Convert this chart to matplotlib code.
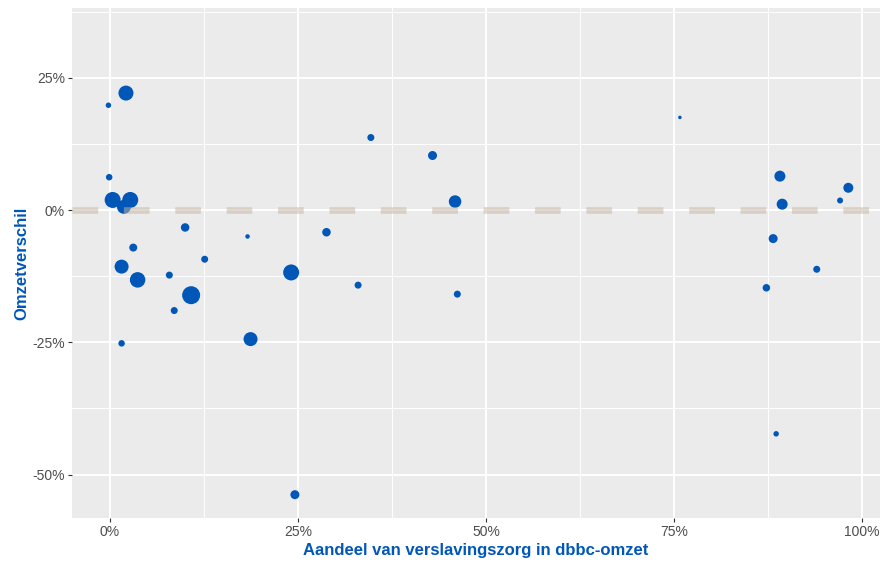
import matplotlib.pyplot as plt
import matplotlib.ticker as mtick

plt.rcParams['font.family'] = ['Liberation Sans', 'DejaVu Sans']
plt.rcParams['lines.scale_dashes'] = False
plt.rcParams['axes.unicode_minus'] = False

# aandeel verslavingszorg in dbbc-omzet
aandeel = [0.0213, -0.002, 0.347, -0.001, 0.0036, 0.027, 0.0186, 0.100, 0.183, 0.288,
           0.031, 0.126, 0.0155, 0.241, 0.079, 0.0368, 0.330, 0.108, 0.0855, 0.187,
           0.0155, 0.459, 0.462, 0.246, 0.429, 0.758, 0.891, 0.982, 0.971, 0.894,
           0.882, 0.940, 0.873, 0.886]
# omzetverschil
verschil = [0.221, 0.198, 0.137, 0.062, 0.019, 0.019, 0.006, -0.033, -0.050, -0.042,
            -0.071, -0.093, -0.107, -0.118, -0.123, -0.132, -0.142, -0.161, -0.190, -0.244,
            -0.252, 0.016, -0.159, -0.538, 0.103, 0.175, 0.064, 0.042, 0.018, 0.011,
            -0.054, -0.112, -0.147, -0.423]
# relatieve omvang (puntgrootte)
omvang = [15, 5.5, 7, 6.5, 16, 16, 14, 8.5, 4.5, 8.5,
          8, 7, 14, 16, 7, 15.5, 7, 18, 7, 14,
          6.5, 12.5, 7, 9, 9, 3.5, 11, 10, 6, 11,
          9, 7, 7.5, 5.5]

x_ticks = [0, 0.25, 0.5, 0.75, 1.0]
y_ticks = [-0.5, -0.25, 0, 0.25]

blauw = '#0057B8'

fig = plt.figure(figsize=(8.83, 5.63), dpi=100)
ax = fig.add_axes([0.0815, 0.080, 0.915, 0.906])
ax.set_facecolor('#EBEBEB')

ax.scatter(aandeel, verschil, s=[(d * 0.72) ** 2 for d in omvang],
           color=blauw, edgecolors='none', zorder=3)
ax.axhline(0, color=(197/255, 181/255, 163/255), alpha=0.5, lw=4.8,
           dashes=(18.5, 18.5), zorder=4)

ax.set_xlim(-0.0505, 1.024)
ax.set_ylim(-0.582, 0.382)
ax.set_xticks(x_ticks)
ax.set_yticks(y_ticks)
ax.set_xticks([0.125, 0.375, 0.625, 0.875], minor=True)
ax.set_yticks([-0.375, -0.125, 0.125, 0.375], minor=True)
ax.xaxis.set_major_formatter(mtick.PercentFormatter(1.0, decimals=0))
ax.yaxis.set_major_formatter(mtick.PercentFormatter(1.0, decimals=0))

ax.grid(which='major', color='white', lw=1.4, zorder=0)
ax.grid(which='minor', color='white', lw=0.7, zorder=0)
ax.set_axisbelow(True)
for s in ax.spines.values():
    s.set_visible(False)
ax.tick_params(which='major', length=3, width=0.8, color='#333333',
               labelcolor='#4D4D4D', labelsize=10, pad=2)
ax.tick_params(which='minor', length=0)

ax.set_xlabel('Aandeel van verslavingszorg in dbbc-omzet', color=blauw,
              fontsize=12, fontweight='bold', labelpad=3)
ax.set_ylabel('Omzetverschil', color=blauw, fontsize=12, fontweight='bold',
              labelpad=2)

fig.savefig('out.png', dpi=100)
